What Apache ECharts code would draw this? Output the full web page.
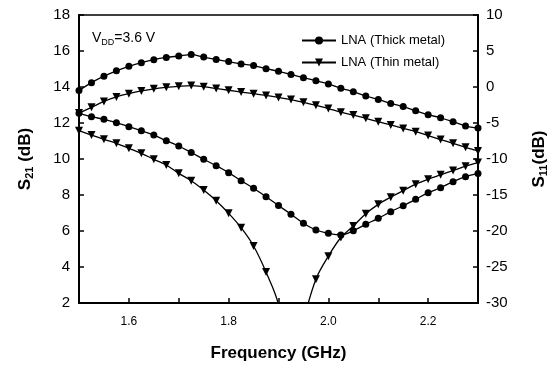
<!DOCTYPE html>
<html>
<head>
<meta charset="utf-8">
<script src="https://cdn.jsdelivr.net/npm/echarts@6/dist/echarts.min.js"></script>
<style>
html,body{margin:0;padding:0;background:#fff;}
#chart{width:557px;height:369px;}
</style>
</head>
<body>
<div id="chart"></div>
<script>
//频率 (GHz)
var freq = [1.5,1.525,1.55,1.575,1.6,1.625,1.65,1.675,1.7,1.725,1.75,1.775,1.8,1.825,1.85,1.875,1.9,
    1.925,1.95,1.975,2.0,2.025,2.05,2.075,2.1,2.125,2.15,2.175,2.2,2.225,2.25,2.275,2.3];

//S21 (左轴, dB)
var s21Thick = [13.8,14.24,14.6,14.9,15.15,15.35,15.52,15.64,15.72,15.8,15.66,15.53,15.41,15.28,15.19,15.02,14.87,
    14.7,14.52,14.35,14.17,13.93,13.74,13.5,13.31,13.09,12.91,12.68,12.46,12.29,12.07,11.83,11.72];
var s21Thin = [12.55,12.87,13.2,13.45,13.63,13.78,13.9,13.98,14.04,14.08,14.02,13.92,13.82,13.72,13.63,13.53,13.42,
    13.3,13.15,12.98,12.8,12.6,12.44,12.26,12.07,11.89,11.7,11.52,11.3,11.08,10.87,10.65,10.45];

//S11 (右轴, dB)
var s11Thick = [-3.65,-4.12,-4.49,-4.96,-5.51,-6.07,-6.67,-7.46,-8.19,-9.1,-10.04,-10.93,-11.9,-13.01,-14.07,-15.24,-16.45,
    -17.68,-18.93,-19.86,-20.32,-20.56,-19.96,-19.07,-18.24,-17.32,-16.49,-15.6,-14.68,-13.99,-13.15,-12.46,-12.0];
var s11Thin = [-6.07,-6.67,-7.26,-7.82,-8.51,-9.21,-10.04,-10.83,-11.99,-13.01,-14.3,-15.79,-17.54,-19.54,-22.08,-25.7,-30.2,
    -40,-32.5,-26.7,-23.5,-20.9,-19.3,-17.6,-16.3,-15.3,-14.4,-13.5,-12.8,-12.2,-11.6,-11.0,-10.5];

var legendNames = ['LNA (Thick metal)','LNA (Thin metal)'];

function pairs(ys){
    var out = [];
    for(var i=0;i<freq.length;i++){
        out.push([freq[i], ys[i]]);
    }
    return out;
}

var font = 'Liberation Sans, Arial, sans-serif';
var chart = echarts.init(document.getElementById('chart'));

function makeSerie(name, ys, yIndex, thin){
    return {
        name: name,
        type: 'line',
        yAxisIndex: yIndex,
        data: pairs(ys),
        smooth: 0.35,
        clip: true,
        symbol: thin ? 'triangle' : 'circle',
        symbolRotate: thin ? 180 : 0,
        symbolSize: thin ? 8 : 7,
        showAllSymbol: true,
        itemStyle: {color:'#000'},
        lineStyle: {color:'#000', width:1.3},
        animation: false,
        z: 3
    };
}

chart.setOption({
    backgroundColor: '#fff',
    animation: false,
    textStyle: {fontFamily: font, color:'#000'},
    title: {
        text: '{v|V}{s|DD}{v|=3.6 V}',
        left: 87,
        top: 24,
        textStyle: {
            fontWeight: 'normal',
            rich: {
                v: {fontSize:14, fontWeight:'normal', fontFamily:font, color:'#000', lineHeight:18},
                s: {fontSize:9, fontWeight:'normal', fontFamily:font, color:'#000', lineHeight:12, verticalAlign:'bottom'}
            }
        }
    },
    legend: {
        data: legendNames,
        orient: 'vertical',
        left: 296,
        top: 29,
        itemWidth: 34,
        itemHeight: 10,
        itemGap: 9,
        textStyle: {fontSize:13, fontFamily:font, color:'#000'}
    },
    grid: {
        left: 79, right: 75, top: 15, bottom: 66,
        show: true, borderColor:'#000', borderWidth:1.5, backgroundColor:'transparent'
    },
    xAxis: {
        type: 'value',
        min: 1.5, max: 2.3, interval: 0.1,
        axisLine: {onZero:false, lineStyle:{color:'#000', width:2}},
        axisTick: {inside:true, length:5, lineStyle:{color:'#000', width:1.5}},
        splitLine: {show:false},
        axisLabel: {
            fontSize: 12, color:'#000', fontFamily:font, margin: 13,
            formatter: function(v){
                var k = Math.round(v*10);
                return (k % 2 === 0) ? (k/10).toFixed(1) : '';
            }
        },
        name: 'Frequency (GHz)',
        nameLocation: 'middle',
        nameGap: 42,
        nameTextStyle: {fontSize:17, fontWeight:'bold', fontFamily:font, color:'#000'}
    },
    yAxis: [{
        type: 'value',
        position: 'left',
        min: 2, max: 18, interval: 2,
        axisLine: {show:true, onZero:false, lineStyle:{color:'#000', width:2}},
        axisTick: {show:true, inside:true, length:5, lineStyle:{color:'#000', width:1.5}},
        splitLine: {show:false},
        axisLabel: {fontSize:15, color:'#000', fontFamily:font, margin:9},
        name: '{a|S}{b|21}{a| (dB)}',
        nameLocation: 'middle',
        nameRotate: 90,
        nameGap: 44,
        nameTextStyle: {
            rich: {
                a: {fontSize:17, fontWeight:'bold', fontFamily:font, color:'#000', lineHeight:20},
                b: {fontSize:11, fontWeight:'bold', fontFamily:font, color:'#000', lineHeight:12, verticalAlign:'bottom'}
            }
        }
    },{
        type: 'value',
        position: 'right',
        min: -30, max: 10, interval: 5,
        axisLine: {show:true, onZero:false, lineStyle:{color:'#000', width:2}},
        axisTick: {show:true, inside:true, length:5, lineStyle:{color:'#000', width:1.5}},
        splitLine: {show:false},
        axisLabel: {fontSize:15, color:'#000', fontFamily:font, margin:8},
        name: '{a|S}{b|11}{a|(dB)}',
        nameLocation: 'middle',
        nameRotate: 90,
        nameGap: 51,
        nameTextStyle: {
            rich: {
                a: {fontSize:17, fontWeight:'bold', fontFamily:font, color:'#000', lineHeight:20},
                b: {fontSize:11, fontWeight:'bold', fontFamily:font, color:'#000', lineHeight:12, verticalAlign:'bottom'}
            }
        }
    }],
    series: [
        makeSerie(legendNames[0], s21Thick, 0, false),
        makeSerie(legendNames[1], s21Thin, 0, true),
        makeSerie(legendNames[0], s11Thick, 1, false),
        makeSerie(legendNames[1], s11Thin, 1, true)
    ]
});
</script>
</body>
</html>
